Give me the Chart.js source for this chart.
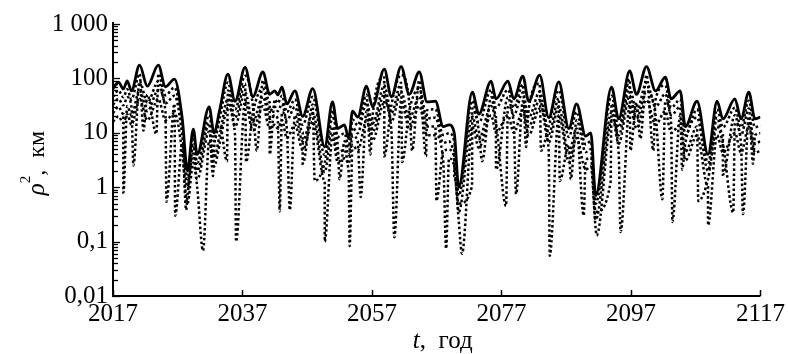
<!DOCTYPE html>
<html>
<head>
<meta charset="utf-8">
<script src="https://cdn.jsdelivr.net/npm/chart.js@4.4.1/dist/chart.umd.min.js"></script>
<style>
  html, body { margin: 0; padding: 0; background: #fff; }
</style>
</head>
<body>
<canvas id="chart" width="788" height="354"></canvas>
<script>
// base time grid (years) shared by all curves
const years = [2017.0, 2017.85, 2018.6, 2019.2, 2019.85, 2021.1, 2022.3, 2024.0, 2025.1, 2026.5,
  2027.7, 2028.5, 2029.4, 2030.0, 2031.85, 2032.6, 2033.5, 2034.75, 2035.85, 2037.4,
  2038.6, 2040.15, 2041.2, 2042.0, 2042.45, 2043.1, 2043.85, 2045.1, 2046.3, 2047.85,
  2049.7, 2050.9, 2051.7, 2052.75, 2053.4, 2054.0, 2054.8, 2056.15, 2057.1, 2058.9,
  2060.0, 2061.5, 2062.75, 2064.3, 2065.5, 2066.8, 2068.0, 2068.9, 2069.7, 2070.4,
  2072.5, 2073.5, 2075.4, 2076.15, 2078.0, 2078.9, 2080.3, 2081.2, 2082.9, 2084.3,
  2085.85, 2087.4, 2088.6, 2090.0, 2090.8, 2091.55, 2094.0, 2095.1, 2096.8, 2097.85,
  2099.4, 2100.8, 2102.3, 2103.2, 2104.6, 2105.4, 2107.2, 2108.9, 2110.3, 2111.2,
  2113.05, 2114.0, 2115.2, 2116.15, 2117.0];

// solid curve
const rhoA = [65, 85, 64, 90, 59, 175, 72, 175, 70, 97,
  18, 2.0, 11.7, 4, 30, 10, 27, 120, 38, 160,
  46, 131, 51, 59, 50, 69, 34, 59, 20, 65,
  5.5, 37, 12, 14, 7.8, 25, 19.5, 72, 30, 148,
  46, 165, 51, 131, 37, 38, 13, 14, 10, 1.0,
  56, 22, 89, 42, 89, 42, 110, 38, 115, 19,
  86, 12, 34, 8.7, 10, 0.7, 69, 18, 137, 51,
  165, 59, 105, 42, 59, 13, 38, 4, 38, 18,
  42, 18, 56, 18, 19.5];

// dotted curves below it
const rhoB = [46, 60, 45, 63, 41, 122, 50, 122, 49, 68,
  12.6, 1.4, 8.2, 2.8, 21, 7, 19, 84, 27, 112,
  32, 92, 36, 41, 35, 48, 24, 41, 14, 46,
  3.9, 26, 8.4, 9.8, 5.5, 17.5, 13.7, 50, 21, 104,
  32, 116, 36, 92, 26, 27, 9.1, 9.8, 7, 0.7,
  39, 15.4, 62, 29, 62, 29, 77, 27, 80, 13.3,
  60, 8.4, 24, 6.1, 7, 0.5, 48, 12.6, 96, 36,
  116, 41, 74, 29, 41, 9.1, 27, 2.8, 27, 12.6,
  29, 12.6, 39, 12.6, 13.7];
const rhoC = [33, 42, 32, 45, 30, 88, 36, 88, 35, 48,
  9, 1.0, 5.9, 2.0, 15, 5, 13.5, 60, 19, 80,
  23, 65, 25, 30, 25, 34, 17, 30, 10, 33,
  2.8, 18.5, 6, 7, 3.9, 12.5, 9.8, 36, 15, 74,
  23, 83, 25, 65, 18.5, 19, 6.5, 7, 5, 0.5,
  28, 11, 45, 21, 45, 21, 55, 19, 57, 9.5,
  43, 6, 17, 4.4, 5, 0.35, 34, 9, 68, 25,
  83, 30, 52, 21, 30, 6.5, 19, 2, 19, 9,
  21, 9, 28, 9, 9.8];
const rhoD = [23, 30, 22, 31, 21, 61, 25, 61, 25, 34,
  6.3, 0.7, 4.1, 1.4, 10.5, 3.5, 9.5, 42, 13, 56,
  16, 46, 18, 21, 17.5, 24, 12, 21, 7, 23,
  1.9, 13, 4.2, 4.9, 2.7, 8.8, 6.8, 25, 10.5, 52,
  16, 58, 18, 46, 13, 13, 4.5, 4.9, 3.5, 0.35,
  20, 7.7, 31, 15, 31, 15, 38, 13, 40, 6.7,
  30, 4.2, 12, 3, 3.5, 0.25, 24, 6.3, 48, 18,
  58, 21, 37, 15, 21, 4.5, 13, 1.4, 13, 6.3,
  15, 6.3, 20, 6.3, 7];
const rhoE = [16, 20, 15, 22, 14, 42, 17, 42, 17, 23,
  4.3, 0.5, 2.8, 1.0, 7.2, 2.4, 6.5, 29, 9, 38,
  11, 31, 12, 14, 12, 17, 8, 14, 4.8, 16,
  1.3, 9, 2.9, 3.4, 1.9, 6, 4.7, 17, 7.2, 36,
  11, 40, 12, 31, 9, 9, 3.1, 3.4, 2.4, 0.24,
  13, 5.3, 21, 10, 21, 10, 26, 9, 28, 4.6,
  21, 2.9, 8, 2.1, 2.4, 0.17, 17, 4.3, 33, 12,
  40, 14, 25, 10, 14, 3.1, 9, 1.0, 9, 4.3,
  10, 4.3, 13, 4.3, 4.7];

// sharp drops of the dotted curves: [year, value]
const dipsB = [[2021.7, 11], [2023.7, 9.5], [2039.2, 4.7], [2041.2, 4], [2056.75, 4], [2058.9, 3.7],
  [2063.2, 4.7], [2065.35, 3.7], [2080.8, 5.5], [2083.1, 4.7], [2096.9, 4.7], [2098.45, 7.8], [2100.45, 4.7]];
const dipsC = [[2020.15, 2.5], [2032.45, 1.6], [2034.6, 3], [2037.55, 2.9], [2046.3, 2.7], [2048.15, 1.3],
  [2052.0, 1.4], [2061.65, 2.9], [2069.7, 1.6], [2072.45, 1.05], [2074.0, 3], [2076.15, 2.1],
  [2086.0, 1.3], [2087.7, 1.4], [2093.85, 1.25], [2104.9, 2.1], [2111.2, 1.7], [2115.85, 2.7]];
const dipsD = [[2018.6, 0.8], [2025.25, 0.54], [2026.6, 0.3], [2028.3, 0.38], [2042.75, 0.36], [2044.3, 0.38],
  [2055.25, 0.66], [2066.95, 0.56], [2077.7, 0.45], [2079.25, 0.75], [2089.7, 0.3], [2101.85, 0.6],
  [2103.4, 0.23], [2107.4, 0.56], [2112.8, 0.34], [2114.3, 0.32]];
const dipsE = [[2030.9, 0.068], [2036.0, 0.1], [2049.7, 0.1], [2053.55, 0.083], [2060.45, 0.12], [2068.45, 0.074],
  [2070.9, 0.06], [2084.45, 0.055], [2091.7, 0.13], [2095.4, 0.15], [2108.9, 0.2]];

const xTicks = [2017, 2037, 2057, 2077, 2097, 2117];
const yTicks = [0.01, 0.1, 1, 10, 100, 1000];
const yTickLabels = ['0,01', '0,1', '1', '10', '100', '1 000'];

const FONT = '"Liberation Serif", "Times New Roman", serif';

function points(vals, dips) {
  const pts = years.map((t, i) => ({ x: t, y: vals[i] }));
  (dips || []).forEach(d => pts.push({ x: d[0], y: d[1] }));
  return pts.sort((a, b) => a.x - b.x);
}

const dotted = (data) => ({
  data, borderColor: '#000', borderWidth: 2.5, borderDash: [2.5, 2.5],
  pointRadius: 0, cubicInterpolationMode: 'monotone', fill: false
});

const axes = {
  id: 'axes',
  afterDraw(chart) {
    const { ctx, chartArea: a, scales: { x, y } } = chart;
    ctx.save();
    ctx.strokeStyle = '#000';
    ctx.lineWidth = 2;
    ctx.beginPath();
    ctx.moveTo(a.left, a.top - 2);
    ctx.lineTo(a.left, a.bottom);
    ctx.lineTo(a.right, a.bottom);
    ctx.stroke();

    // y ticks (inside), with minor ones
    ctx.lineWidth = 1.3;
    for (let p = -2; p <= 3; p++) {
      for (let k = 1; k <= 9; k++) {
        const v = k * Math.pow(10, p);
        if (v > 1000) break;
        const py = Math.round(y.getPixelForValue(v)) + 0.5;
        ctx.beginPath();
        ctx.moveTo(a.left, py);
        ctx.lineTo(a.left + (k === 1 ? 7 : 5), py);
        ctx.stroke();
      }
    }
    // x ticks (inside)
    ctx.lineWidth = 1.5;
    xTicks.forEach(t => {
      const px = Math.round(x.getPixelForValue(t)) + 0.5;
      ctx.beginPath();
      ctx.moveTo(px, a.bottom);
      ctx.lineTo(px, a.bottom - 6);
      ctx.stroke();
    });

    // x title: t, год
    ctx.fillStyle = '#000';
    ctx.textBaseline = 'alphabetic';
    const cx = (a.left + a.right) / 2 + 6;
    ctx.font = 'italic 25px ' + FONT;
    const w1 = ctx.measureText('t').width;
    ctx.font = '25px ' + FONT;
    const w2 = ctx.measureText(',  год').width;
    const sx = cx - (w1 + w2) / 2;
    ctx.font = 'italic 25px ' + FONT;
    ctx.fillText('t', sx, 348);
    ctx.font = '25px ' + FONT;
    ctx.fillText(',  год', sx + w1, 348);

    // y title: rho^2, км
    ctx.translate(44, 163);
    ctx.rotate(-Math.PI / 2);
    ctx.font = 'italic 25px ' + FONT;
    const r1 = ctx.measureText('ρ').width;
    ctx.font = '15px ' + FONT;
    const r2 = ctx.measureText('2').width;
    ctx.font = '24px ' + FONT;
    const r3 = ctx.measureText(',  км').width;
    const ox = -(r1 + r2 + r3) / 2;
    ctx.font = 'italic 25px ' + FONT;
    ctx.fillText('ρ', ox, 0);
    ctx.font = '15px ' + FONT;
    ctx.fillText('2', ox + r1, -14);
    ctx.font = '24px ' + FONT;
    ctx.fillText(',  км', ox + r1 + r2, 0);
    ctx.restore();
  }
};

new Chart(document.getElementById('chart'), {
  type: 'line',
  data: {
    datasets: [
      { data: points(rhoA), borderColor: '#000', borderWidth: 2.8, pointRadius: 0, cubicInterpolationMode: 'monotone', fill: false, borderJoinStyle: 'round' },
      dotted(points(rhoB, dipsB)),
      dotted(points(rhoC, dipsC)),
      dotted(points(rhoD, dipsD)),
      dotted(points(rhoE, dipsE))
    ]
  },
  options: {
    responsive: false,
    animation: false,
    devicePixelRatio: 1,
    layout: { padding: { top: 24, right: 26, left: 0, bottom: 0 } },
    plugins: { legend: { display: false }, tooltip: { enabled: false } },
    scales: {
      x: {
        type: 'linear',
        min: 2017,
        max: 2117,
        grid: { display: false, drawTicks: false },
        border: { display: false },
        afterFit: s => { s.height = 58; },
        afterBuildTicks: s => { s.ticks = xTicks.map(v => ({ value: v })); },
        ticks: {
          autoSkip: false, maxRotation: 0, padding: 3, color: '#000',
          font: { family: FONT, size: 25 },
          callback: v => String(v)
        }
      },
      y: {
        type: 'logarithmic',
        min: 0.01,
        max: 1000,
        grid: { display: false, drawTicks: false },
        border: { display: false },
        afterFit: s => { s.width = 113; },
        afterBuildTicks: s => { s.ticks = yTicks.map(v => ({ value: v })); },
        ticks: {
          autoSkip: false, padding: 5, color: '#000',
          font: { family: FONT, size: 25 },
          callback: (v, i) => yTickLabels[i]
        }
      }
    }
  },
  plugins: [axes]
});
</script>
</body>
</html>
